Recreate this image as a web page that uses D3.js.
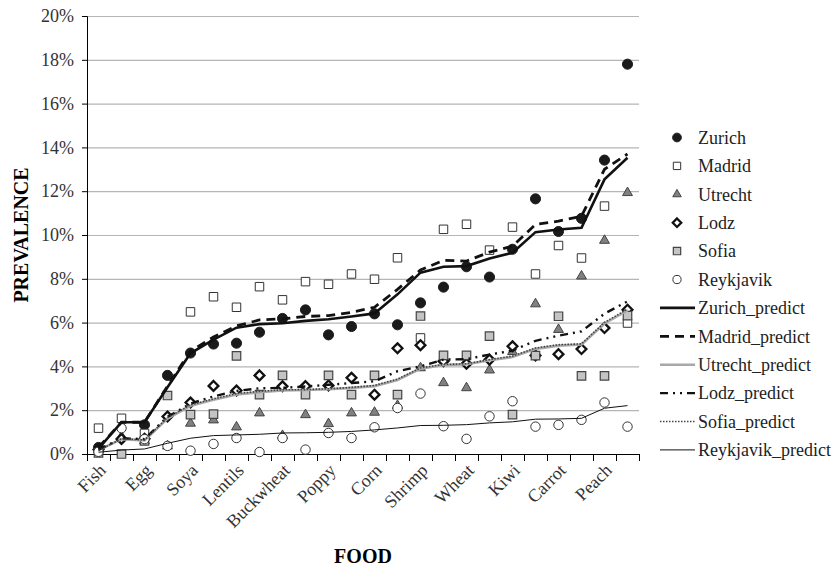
<!DOCTYPE html>
<html>
<head>
<meta charset="utf-8">
<script src="https://cdn.jsdelivr.net/npm/d3@7"></script>
<style>
  body { margin: 0; background: #fff; }
  text { font-family: "Liberation Serif", "Times New Roman", serif; }
</style>
</head>
<body>
<div id="chart"></div>
<script>
// categories (only every other one gets a visible label, like the original)
const foods = ['Fish', 'Milk', 'Egg', 'Mustard', 'Soya', 'Sesame', 'Lentils', 'Sunflower',
  'Buckwheat', 'Walnut', 'Poppy', 'Banana', 'Corn', 'Peanut', 'Shrimp', 'Celery',
  'Wheat', 'Tomato', 'Kiwi', 'Melon', 'Carrot', 'Apple', 'Peach', 'Hazelnut'];

// observed prevalence, %
const zurich    = [0.3, null, 1.33, 3.59, 4.61, 5.02, 5.06, 5.56, 6.19, 6.58, 5.44, 5.82, 6.4, 5.9, 6.9, 7.62, 8.55, 8.08, 9.35, 11.65, 10.16, 10.76, 13.42, 17.8];
const madrid    = [1.18, 1.63, 0.94, null, 6.49, 7.18, 6.7, 7.64, 7.04, 7.87, 7.75, 8.22, 7.98, 8.96, 5.3, 10.26, 10.49, 9.31, 10.36, 8.22, 9.52, 8.95, 11.32, 5.98];
const utrecht   = [0.2, 0.8, 0.6, 0.36, 1.4, 1.55, 1.23, 1.87, 0.84, 1.79, 1.38, 1.87, 1.9, 2.21, 3.93, 3.25, 3.02, 3.83, 4.67, 6.85, 5.68, 8.12, 9.75, 11.93];
const lodz      = [0.2, 0.69, 0.7, 1.71, 2.35, 3.11, 2.9, 3.59, 3.09, 3.1, 3.13, 3.48, 2.71, 4.83, 4.97, 4.24, 4.12, 4.31, 4.92, 4.5, 4.56, 4.79, 5.75, 6.59];
const sofia     = [0.05, 0.0, 0.6, 2.67, 1.8, 1.82, 4.48, 2.71, 3.59, 2.71, 3.59, 2.71, 3.59, 2.71, 6.3, 4.5, 4.5, 5.38, 1.8, 4.49, 6.29, 3.57, 3.57, 6.32];
const reykjavik = [0.1, 1.18, 0.68, 0.37, 0.15, 0.46, 0.73, 0.09, 0.73, 0.2, 0.96, 0.73, 1.22, 2.1, 2.76, 1.27, 0.69, 1.72, 2.41, 1.25, 1.33, 1.56, 2.35, 1.25];

// predicted prevalence, %
const zurichPred    = [0.25, 1.45, 1.45, 3.05, 4.6, 5.22, 5.77, 5.93, 5.97, 6.08, 6.15, 6.28, 6.42, 7.29, 8.28, 8.55, 8.58, 8.93, 9.19, 10.13, 10.25, 10.33, 12.54, 13.53];
const madridPred    = [0.3, 1.45, 1.45, 3.1, 4.7, 5.34, 5.85, 6.12, 6.17, 6.28, 6.32, 6.47, 6.7, 7.52, 8.4, 8.84, 8.81, 9.22, 9.49, 10.48, 10.63, 10.86, 13.0, 13.7];
const utrechtPred   = [0.18, 0.68, 0.62, 1.62, 2.2, 2.48, 2.72, 2.82, 2.9, 2.92, 2.96, 3.02, 3.1, 3.38, 3.9, 4.06, 4.1, 4.28, 4.43, 4.8, 4.95, 5.0, 5.96, 6.56];
const lodzPred      = [0.2, 0.72, 0.68, 1.7, 2.3, 2.63, 2.88, 3.0, 3.02, 3.08, 3.16, 3.24, 3.32, 3.78, 4.0, 4.31, 4.33, 4.54, 4.72, 5.17, 5.4, 5.6, 6.41, 6.97];
const sofiaPred     = [0.15, 0.7, 0.64, 1.66, 2.24, 2.52, 2.76, 2.86, 2.93, 2.94, 2.98, 3.04, 3.13, 3.42, 3.93, 4.09, 4.12, 4.31, 4.47, 4.84, 4.99, 5.03, 6.01, 6.62];
const reykjavikPred = [0.08, 0.18, 0.23, 0.49, 0.72, 0.84, 0.87, 0.9, 0.96, 0.97, 0.99, 1.03, 1.1, 1.19, 1.3, 1.31, 1.34, 1.42, 1.47, 1.59, 1.6, 1.63, 2.09, 2.21];

const yTicks = [0, 2, 4, 6, 8, 10, 12, 14, 16, 18, 20];

const W = 835, H = 567;
const margin = { top: 16, right: 196, bottom: 113, left: 87 };
const width = W - margin.left - margin.right;
const height = H - margin.top - margin.bottom;

const svg = d3.select('#chart').append('svg')
  .attr('width', W).attr('height', H);
const g = svg.append('g')
  .attr('transform', 'translate(' + margin.left + ',' + margin.top + ')');

const x = d3.scaleBand().domain(foods).range([0, width]);
const xi = d3.scaleLinear().domain([0, foods.length]).range([0, width]);
const y = d3.scaleLinear().domain([0, 20]).range([height, 0]);

// gridlines
g.append('g')
  .call(d3.axisLeft(y).tickValues(yTicks).tickSize(-width).tickFormat(''))
  .call(s => s.select('.domain').remove())
  .selectAll('line').attr('stroke', '#b5b5b5').attr('stroke-width', 1.2);

// y axis
g.append('g')
  .call(d3.axisLeft(y).tickValues(yTicks).tickSize(5).tickPadding(8).tickFormat(d => d + '%'))
  .call(s => s.selectAll('text').attr('font-size', 18).attr('fill', '#333'))
  .call(s => s.selectAll('line, path').attr('stroke', '#000'));

// x axis: ticks at band boundaries
g.append('g')
  .attr('transform', 'translate(0,' + height + ')')
  .call(d3.axisBottom(xi).ticks(foods.length).tickSize(7).tickFormat(''))
  .call(s => s.selectAll('line, path').attr('stroke', '#000'));

// x labels, every other category
g.append('g')
  .attr('transform', 'translate(0,' + height + ')')
  .call(d3.axisBottom(x).tickSize(0).tickFormat((d, i) => i % 2 === 0 ? d : ''))
  .call(s => s.select('.domain').remove())
  .selectAll('text')
  .attr('font-size', 18).attr('fill', '#333')
  .attr('x', 0).attr('y', 0).attr('dy', '0.35em')
  .attr('text-anchor', 'end')
  .attr('transform', 'translate(4,13) rotate(-45)');

// axis titles
svg.append('text')
  .attr('transform', 'translate(28,' + (margin.top + height / 2) + ') rotate(-90)')
  .attr('text-anchor', 'middle')
  .attr('font-size', 20).attr('font-weight', 'bold')
  .text('PREVALENCE');
svg.append('text')
  .attr('x', margin.left + width / 2).attr('y', 563)
  .attr('text-anchor', 'middle')
  .attr('font-size', 20).attr('font-weight', 'bold')
  .text('FOOD');

const diamond = {
  draw(ctx, size) {
    const r = Math.sqrt(size / 2);
    ctx.moveTo(0, -r); ctx.lineTo(r, 0); ctx.lineTo(0, r); ctx.lineTo(-r, 0); ctx.closePath();
  }
};

const pointSeries = [
  { name: 'Zurich', values: zurich, type: d3.symbolCircle, size: 80, fill: '#1a1a1a', stroke: '#1a1a1a', sw: 1 },
  { name: 'Madrid', values: madrid, type: d3.symbolSquare, size: 72, fill: '#fff', stroke: '#333', sw: 1 },
  { name: 'Utrecht', values: utrecht, type: d3.symbolTriangle, size: 42, fill: '#808080', stroke: '#444', sw: 1 },
  { name: 'Lodz', values: lodz, type: diamond, size: 48, fill: '#fff', stroke: '#111', sw: 2.3 },
  { name: 'Sofia', values: sofia, type: d3.symbolSquare, size: 72, fill: '#c4c4c4', stroke: '#444', sw: 1.2 },
  { name: 'Reykjavik', values: reykjavik, type: d3.symbolCircle, size: 70, fill: '#fff', stroke: '#333', sw: 1 }
];

const lineSeries = [
  { name: 'Zurich_predict', values: zurichPred, stroke: '#111', sw: 2.6, dash: null },
  { name: 'Madrid_predict', values: madridPred, stroke: '#111', sw: 2.8, dash: '9,6' },
  { name: 'Utrecht_predict', values: utrechtPred, stroke: '#a8a8a8', sw: 2.6, dash: null },
  { name: 'Lodz_predict', values: lodzPred, stroke: '#111', sw: 2.4, dash: '8,5,2,5,2,5' },
  { name: 'Sofia_predict', values: sofiaPred, stroke: '#444', sw: 1.6, dash: '1.5,1.5' },
  { name: 'Reykjavik_predict', values: reykjavikPred, stroke: '#111', sw: 1, dash: null }
];

// markers
pointSeries.forEach(s => {
  g.append('g').selectAll('path')
    .data(s.values.map((v, i) => ({ food: foods[i], v })).filter(d => d.v !== null))
    .enter().append('path')
    .attr('transform', d => 'translate(' + (x(d.food) + x.bandwidth() / 2) + ',' + y(d.v) + ')')
    .attr('d', d3.symbol().type(s.type).size(s.size))
    .attr('fill', s.fill).attr('stroke', s.stroke).attr('stroke-width', s.sw);
});

// predicted lines
const line = d3.line()
  .x((d, i) => x(foods[i]) + x.bandwidth() / 2)
  .y(d => y(d));

lineSeries.forEach(s => {
  g.append('path')
    .datum(s.values)
    .attr('d', line)
    .attr('fill', 'none')
    .attr('stroke', s.stroke)
    .attr('stroke-width', s.sw)
    .attr('stroke-dasharray', s.dash);
});

// legend
const legend = svg.append('g').attr('transform', 'translate(660,137.5)');
const rowH = 28.4;

pointSeries.forEach((s, i) => {
  const row = legend.append('g').attr('transform', 'translate(0,' + i * rowH + ')');
  row.append('path')
    .attr('transform', 'translate(17,0)')
    .attr('d', d3.symbol().type(s.type).size(s.size * 0.75))
    .attr('fill', s.fill).attr('stroke', s.stroke).attr('stroke-width', s.sw);
  row.append('text').attr('x', 38).attr('dy', '0.35em')
    .attr('font-size', 18).attr('fill', '#222').text(s.name);
});

lineSeries.forEach((s, i) => {
  const row = legend.append('g').attr('transform', 'translate(0,' + (i + 6) * rowH + ')');
  row.append('line')
    .attr('x1', 0).attr('x2', 35)
    .attr('stroke', s.stroke).attr('stroke-width', s.sw)
    .attr('stroke-dasharray', s.dash);
  row.append('text').attr('x', 38).attr('dy', '0.35em')
    .attr('font-size', 18).attr('fill', '#222').text(s.name);
});
</script>
</body>
</html>
